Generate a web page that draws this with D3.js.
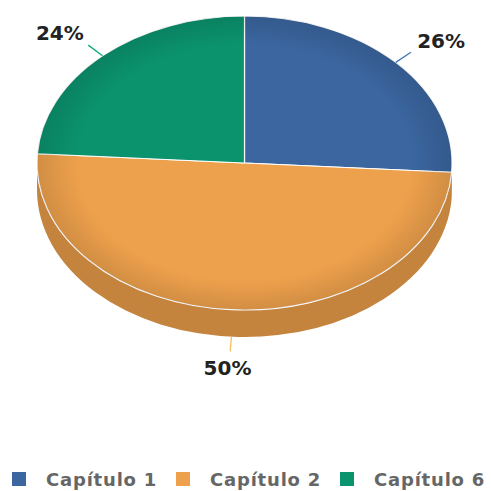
<!DOCTYPE html>
<html>
<head>
<meta charset="utf-8">
<script src="https://cdn.jsdelivr.net/npm/d3@7"></script>
<style>
    body { margin: 0; background: #fff; }
</style>
</head>
<body>
<div id="chart"></div>
<script>
const categories = ["Capítulo 1", "Capítulo 2", "Capítulo 6"];
const shares = [26, 50, 24];
const sliceColors = ["#3b66a0", "#eea14c", "#0b936e"];

const width = 491, height = 491;
const cx = 244.5, cy = 163,
    rx = 207.5, ry = 147,
    depth = 27;

const color = d3.scaleOrdinal()
    .domain(categories)
    .range(sliceColors);

const pie = d3.pie()
    .sort(null)
    .value(d => d.value);

const arcs = pie(categories.map((c, i) => ({key: c, value: shares[i]})));

// angle measured clockwise from 12 o'clock
function pt(a, kx, ky, dy) {
    return [cx + rx * kx * Math.sin(a), cy - ry * ky * Math.cos(a) + (dy || 0)];
}

function topPath(d) {
    const p0 = pt(d.startAngle, 1, 1), p1 = pt(d.endAngle, 1, 1);
    const large = d.endAngle - d.startAngle > Math.PI ? 1 : 0;
    return "M" + cx + "," + cy + "L" + p0 + "A" + rx + "," + ry + " 0 " + large + " 1 " + p1 + "Z";
}

// only the front half (PI/2 .. 3PI/2) of the wall is visible
function sidePath(d) {
    const a0 = Math.max(d.startAngle, Math.PI / 2),
        a1 = Math.min(d.endAngle, Math.PI * 1.5);
    if (a1 <= a0) return null;
    const p0 = pt(a0, 1, 1), p1 = pt(a1, 1, 1),
        q1 = pt(a1, 1, 1, depth), q0 = pt(a0, 1, 1, depth);
    const large = a1 - a0 > Math.PI ? 1 : 0;
    return "M" + p0 + "A" + rx + "," + ry + " 0 " + large + " 1 " + p1 +
        "L" + q1 + "A" + rx + "," + ry + " 0 " + large + " 0 " + q0 + "Z";
}

const svg = d3.select("#chart")
    .append("svg")
    .attr("width", width)
    .attr("height", height)
    .style("font-family", "'DejaVu Sans', Verdana, sans-serif");

const defs = svg.append("defs");
const grad = defs.append("radialGradient")
    .attr("id", "shade")
    .attr("cx", "50%").attr("cy", "50%").attr("r", "50%");
grad.append("stop").attr("offset", "0.8").attr("stop-color", "#000").attr("stop-opacity", 0);
grad.append("stop").attr("offset", "1").attr("stop-color", "#000").attr("stop-opacity", 0.12);

// side walls
svg.append("g")
    .selectAll("path")
    .data(arcs)
    .join("path")
    .attr("d", sidePath)
    .attr("fill", d => d3.rgb(color(d.data.key)).darker(0.55));

// top faces
svg.append("g")
    .selectAll("path")
    .data(arcs)
    .join("path")
    .attr("d", topPath)
    .attr("fill", d => color(d.data.key))
    .attr("stroke", "#fff")
    .attr("stroke-width", 1.2)
    .attr("stroke-linejoin", "round");

svg.append("ellipse")
    .attr("cx", cx).attr("cy", cy)
    .attr("rx", rx).attr("ry", ry)
    .attr("fill", "url(#shade)")
    .attr("pointer-events", "none");

// labels
const fmt = d => d3.format(".0f")(d.data.value) + "%";
const front = d => {
    const m = (d.startAngle + d.endAngle) / 2;
    return m > Math.PI / 2 && m < Math.PI * 1.5 ? depth : 0;
};
const mid = d => (d.startAngle + d.endAngle) / 2;

const labels = svg.append("g")
    .selectAll("g")
    .data(arcs)
    .join("g");

labels.append("line")
    .attr("x1", d => pt(mid(d), 1, 1, front(d))[0])
    .attr("y1", d => pt(mid(d), 1, 1, front(d))[1])
    .attr("x2", d => pt(mid(d), 1.1, 1.1, front(d))[0])
    .attr("y2", d => pt(mid(d), 1.1, 1.1, front(d))[1])
    .attr("stroke", d => d3.rgb(color(d.data.key)).brighter(0.4))
    .attr("stroke-width", 1.3);

labels.append("text")
    .attr("x", d => pt(mid(d), 1.3, 1.21, front(d))[0])
    .attr("y", d => pt(mid(d), 1.3, 1.21, front(d))[1])
    .attr("text-anchor", "middle")
    .attr("dominant-baseline", "central")
    .attr("font-size", 20)
    .attr("font-weight", "bold")
    .attr("fill", "#222")
    .text(fmt);

// legend
const legendX = [12, 176, 340];
const legend = svg.append("g")
    .attr("transform", "translate(0,479)")
    .selectAll("g")
    .data(categories)
    .join("g")
    .attr("transform", (d, i) => "translate(" + legendX[i] + ",0)");

legend.append("rect")
    .attr("x", 0).attr("y", -7)
    .attr("width", 14).attr("height", 14)
    .attr("fill", d => color(d));

legend.append("text")
    .attr("x", 34)
    .attr("dominant-baseline", "central")
    .attr("font-size", 18)
    .attr("font-weight", "bold")
    .attr("letter-spacing", 0.8)
    .attr("fill", "#666")
    .text(d => d);
</script>
</body>
</html>
